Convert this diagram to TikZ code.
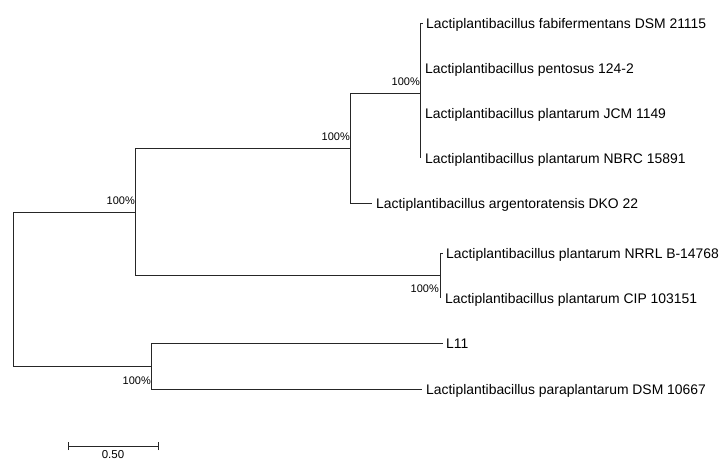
\documentclass[tikz,border=0pt]{standalone}
\usepackage{fontspec}
\setmainfont{Liberation Sans}
\begin{document}
\begin{tikzpicture}[x=1pt,y=-1pt,
  branch/.style={draw=black!85,line width=0.9pt},
  tip/.style={anchor=west,inner sep=0pt,font=\fontsize{13.9}{15}\selectfont,text height=10pt,text depth=0pt},
  boot/.style={inner sep=0pt,font=\fontsize{11}{12}\selectfont,text height=8pt,text depth=0pt}]
\useasboundingbox[fill=white] (0,0) rectangle (722,461);
% internal nodes
\coordinate (r) at (13,289);
\coordinate (A) at (135,212);
\coordinate (B) at (151,366);
\coordinate (C) at (350,148);
\coordinate (D) at (440,275);
\coordinate (E) at (420,93);
% branch ends
\coordinate (e1) at (423,23);
\coordinate (e2) at (420,68);
\coordinate (e3) at (420,113);
\coordinate (e4) at (420,158);
\coordinate (e5) at (372,203);
\coordinate (e6) at (443,253);
\coordinate (e7) at (440,298);
\coordinate (e8) at (443,343);
\coordinate (e9) at (422,389);
% tip labels
\node[tip] (t1) at ([xshift=3pt]e1) {Lactiplantibacillus fabifermentans DSM 21115};
\node[tip] (t2) at ([xshift=5pt]e2) {Lactiplantibacillus pentosus 124-2};
\node[tip] (t3) at ([xshift=5pt]e3) {Lactiplantibacillus plantarum JCM 1149};
\node[tip] (t4) at ([xshift=5pt]e4) {Lactiplantibacillus plantarum NBRC 15891};
\node[tip] (t5) at ([xshift=4pt]e5) {Lactiplantibacillus argentoratensis DKO 22};
\node[tip] (t6) at ([xshift=3pt]e6) {Lactiplantibacillus plantarum NRRL B-14768};
\node[tip] (t7) at ([xshift=5pt]e7) {Lactiplantibacillus plantarum CIP 103151};
\node[tip] (t8) at ([xshift=3pt]e8) {L11};
\node[tip] (t9) at ([xshift=4pt]e9) {Lactiplantibacillus paraplantarum DSM 10667};
% branches
\path[branch] (r) |- (A);
\path[branch] (r) |- (B);
\path[branch] (A) |- (C);
\path[branch] (A) |- (D);
\path[branch] (C) |- (E);
\path[branch] (C) |- (e5);
\path[branch] (E) |- (e1);
\path[branch] (E) |- (e4);
\path[branch] (D) |- (e6);
\path[branch] (D) |- (e7);
\path[branch] (B) |- (e8);
\path[branch] (B) |- (e9);
% bootstrap values
\node[boot,anchor=south east] (bE) at ([yshift=7pt]E) {100\%};
\node[boot,anchor=south east] (bC) at ([yshift=7pt]C) {100\%};
\node[boot,anchor=south east] (bA) at ([yshift=7pt]A) {100\%};
\node[boot,anchor=south east] (bD) at ([xshift=-1pt,yshift=-18pt]D) {100\%};
\node[boot,anchor=south east] (bB) at ([yshift=-19pt]B) {100\%};
% scale bar
\coordinate (s1) at (68,446);
\coordinate (s2) at (158,446);
\path[branch] (s1) -- (s2);
\path[branch] ([yshift=-4pt]s1) -- ([yshift=4pt]s1);
\path[branch] ([yshift=-4pt]s2) -- ([yshift=4pt]s2);
\node[boot,anchor=north,font=\fontsize{11.5}{12}\selectfont] (sl) at ([xshift=45pt,yshift=-4pt]s1) {0.50};
\end{tikzpicture}
\end{document}
